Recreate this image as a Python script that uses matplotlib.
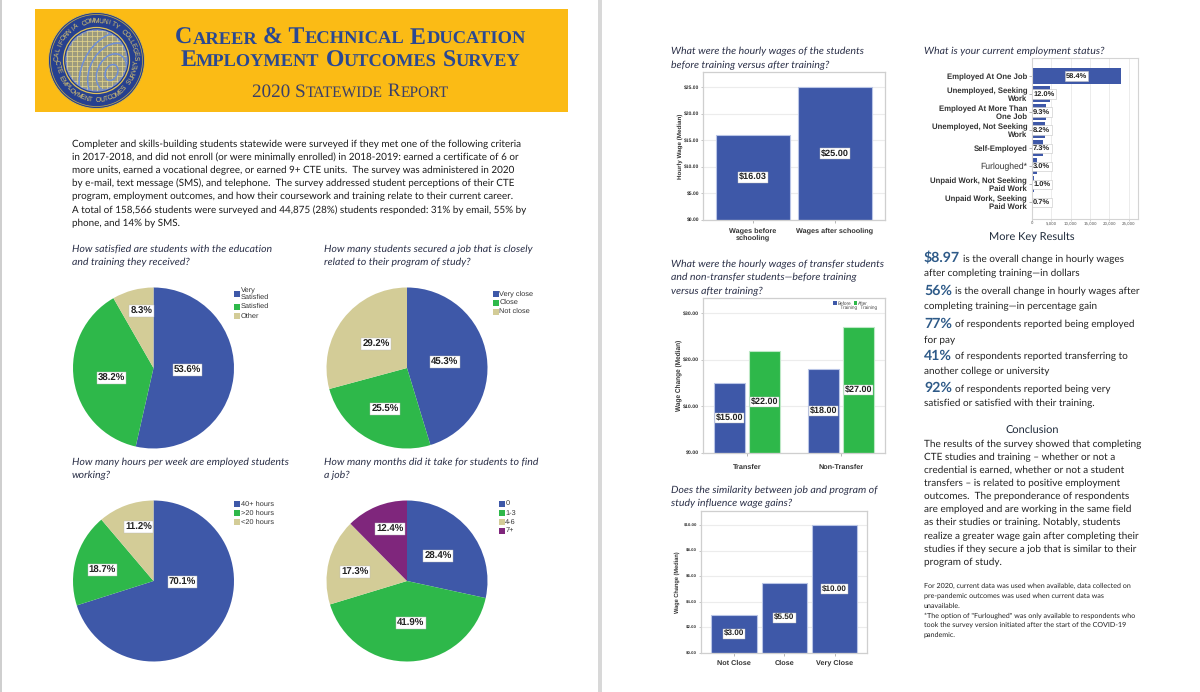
import numpy as np
import matplotlib
matplotlib.use('Agg')
import matplotlib.pyplot as plt
from matplotlib.patches import Rectangle, Circle, Ellipse

plt.rcParams['text.hinting'] = 'no_hinting'

W, H = 1200, 692

# pie data
sat_labels = ['Very\nSatisfied', 'Satisfied', 'Other']
sat_values = [53.6, 38.2, 8.3]
close_labels = ['Very close', 'Close', 'Not close']
close_values = [45.3, 25.5, 29.2]
hours_labels = ['40+ hours', '>20 hours', '<20 hours']
hours_values = [70.1, 18.7, 11.2]
months_labels = ['0', '1-3', '4-6', '7+']
months_values = [28.4, 41.9, 17.3, 12.4]

# bar data
wage_cats = ['Wages before\nschooling', 'Wages after schooling']
wage_values = [16.03, 25.00]
transfer_cats = ['Transfer', 'Non-Transfer']
transfer_before = [15.00, 18.00]
transfer_after = [22.00, 27.00]
similar_cats = ['Not Close', 'Close', 'Very Close']
similar_values = [3.00, 5.50, 10.00]

status_cats = ['Employed At One Job', 'Unemployed, Seeking\nWork',
               'Employed At More Than\nOne Job', 'Unemployed, Not Seeking\nWork',
               'Self-Employed', 'Furloughed*', 'Unpaid Work, Not Seeking\nPaid Work',
               'Unpaid Work, Seeking\nPaid Work']
status_pct = [58.4, 12.0, 9.3, 8.2, 7.3, 3.0, 1.0, 0.7]
status_counts = [23050, 4740, 3670, 3240, 2880, 1180, 395, 275]
status_ticks = [0, 5000, 10000, 15000, 20000, 25000]

intro_lines = [
    'Completer and skills-building students statewide were surveyed if they met one of the following criteria',
    'in 2017-2018, and did not enroll (or were minimally enrolled) in 2018-2019: earned a certificate of 6 or',
    'more units, earned a vocational degree, or earned 9+ CTE units.  The survey was administered in 2020',
    'by e-mail, text message (SMS), and telephone.  The survey addressed student perceptions of their CTE',
    'program, employment outcomes, and how their coursework and training relate to their current career.',
    'A total of 158,566 students were surveyed and 44,875 (28%) students responded: 31% by email, 55% by',
    'phone, and 14% by SMS.',
]
key_results = [
    ('$8.97', 'is the overall change in hourly wages', 'after completing training\u2014in dollars'),
    ('56%', 'is the overall change in hourly wages after', 'completing training\u2014in percentage gain'),
    ('77%', 'of respondents reported being employed', 'for pay'),
    ('41%', 'of respondents reported transferring to', 'another college or university'),
    ('92%', 'of respondents reported being very', 'satisfied or satisfied with their training.'),
]
conclusion_lines = [
    'The results of the survey showed that completing',
    'CTE studies and training \u2013 whether or not a',
    'credential is earned, whether or not a student',
    'transfers \u2013 is related to positive employment',
    'outcomes.  The preponderance of respondents',
    'are employed and are working in the same field',
    'as their studies or training. Notably, students',
    'realize a greater wage gain after completing their',
    'studies if they secure a job that is similar to their',
    'program of study.',
]
note_lines = [
    'For 2020, current data was used when available, data collected on',
    'pre-pandemic outcomes was used when current data was',
    'unavailable.',
    '*The option of "Furloughed" was only available to respondents who',
    'took the survey version initiated after the start of the COVID-19',
    'pandemic.',
]

BLUE = '#3E58A8'
GREEN = '#2EB84A'
TAN = '#D3CC97'
PURPLE = '#7F267C'
GOLD = '#FBBB15'
NAVY = '#2A4892'
QCOL = '#2B3048'
BODY = 'Lato'
ARIAL = 'Liberation Sans'
pie_colors = [BLUE, GREEN, TAN, PURPLE]

fig = plt.figure(figsize=(W / 100, H / 100), dpi=100, facecolor='white')
page = fig.add_axes([0, 0, 1, 1], zorder=0)
page.set_xlim(0, W)
page.set_ylim(H, 0)
page.axis('off')


def box_axes(x0, y0, x1, y1):
    """ Axes from a pixel box, y counted from the top. """
    return fig.add_axes([x0 / W, 1 - y1 / H, (x1 - x0) / W, (y1 - y0) / H], zorder=2)


def small_caps(text, cx, y, big, small, color, weight='bold'):
    """ Small caps title, made of runs of two sizes, centered on cx. """
    runs = []
    for word_start, ch in zip([True] + [c == ' ' for c in text[:-1]], text):
        size = big if (word_start or not ch.isalpha()) else small
        label = ch.upper()
        if runs and runs[-1][1] == size:
            runs[-1][0] += label
        else:
            runs.append([label, size])
    renderer = fig.canvas.get_renderer()
    items = []
    total = 0
    for label, size in runs:
        # trailing spaces are not measured, so measure with a stopper
        t = page.text(0, y, label + '|', family='Liberation Serif', weight=weight, fontsize=size,
                      color=color, va='baseline')
        w = t.get_window_extent(renderer).width
        t.set_text('|')
        w -= t.get_window_extent(renderer).width
        t.set_text(label)
        items.append((t, w))
        total += w
    x = cx - total / 2
    for t, w in items:
        t.set_x(x)
        x += w


def arc_text(text, cx, cy, r, center_deg, step, top):
    """ Places letters one by one round the seal. """
    n = len(text)
    for i, ch in enumerate(text):
        off = (i - (n - 1) / 2) * step
        a = np.deg2rad(center_deg + off if top else center_deg - off)
        x = cx + r * np.sin(a)
        y = cy - r * np.cos(a)
        rot = -np.rad2deg(a) if top else 180 - np.rad2deg(a)
        page.text(x, y, ch, fontsize=4.8, color='#E9CF6B', family=ARIAL,
                  ha='center', va='center', rotation=rot, rotation_mode='anchor', zorder=6)


def draw_logo(cx, cy):
    page.add_patch(Circle((cx, cy), 48, fc='#26408F', ec='#E6BE3A', lw=0.6, zorder=3))
    page.add_patch(Circle((cx, cy), 46, fc='none', ec='#C9AE4A', lw=0.5, zorder=3))
    page.add_patch(Circle((cx, cy), 33, fc='#1E3A8C', ec='#E0C25A', lw=0.9, zorder=3))
    page.add_patch(Circle((cx, cy), 30.5, fc='#9C9A7E', ec='#7C8FC6', lw=1.0, zorder=3))
    globe = Circle((cx, cy), 30.5, transform=page.transData)
    for k in np.arange(-30, 31, 5):
        ln, = page.plot([cx - 31, cx + 31], [cy + k, cy + k], color='#E8D88C', lw=0.5, zorder=4)
        ln.set_clip_path(globe)
        ln, = page.plot([cx + k, cx + k], [cy - 31, cy + 31], color='#E8D88C', lw=0.5, zorder=4)
        ln.set_clip_path(globe)
    for rx in [6, 14, 22, 30]:
        e = Ellipse((cx + 15, cy + 12), rx * 2, rx * 2.8, angle=25, fc='none', ec='#6F8FD6', lw=1.1, zorder=5)
        page.add_patch(e)
        e.set_clip_path(globe)
    arc_text('CALIFORNIA COMMUNITY COLLEGES', cx, cy, 39.5, 0, 6.2, True)
    arc_text('CTE EMPLOYMENT OUTCOMES SURVEY', cx, cy, 39.5, 180, 6.0, False)


def question(x, y, lines, dy=13.4):
    for i, line in enumerate(lines):
        page.text(x, y + i * dy, line, family=BODY, style='italic', fontsize=7.55, color=QCOL,
                  va='center')


def draw_pie(cx, cy, r, values, offsets):
    ax = box_axes(cx - r, cy - r, cx + r, cy + r)
    colors = pie_colors[:len(values)]
    ax.pie(values, colors=colors, startangle=90, counterclock=False, radius=1,
           wedgeprops={'linewidth': 0})
    ax.set_xlim(-1, 1)
    ax.set_ylim(-1, 1)
    for v, (dx, dy) in zip(values, offsets):
        ax.text(dx / r, -dy / r, '%.1f%%' % v, family=ARIAL, weight='bold', fontsize=6.9, color='#222222',
                ha='center', va='center', bbox=dict(fc='white', ec='#bbbbbb', lw=0.3, pad=0.9))


def pie_legend(x, ys, labels, colors):
    for y, label, c in zip(ys, labels, colors):
        page.add_patch(Rectangle((x, y - 3), 6, 6, fc=c, ec='none', zorder=3))
        page.text(x + 6.8, y, label, family=ARIAL, fontsize=5.3, color='#333333', va='center', linespacing=0.95)


def style_bar_axes(ax, ylabel, tick_size=3.6, xpad=3, ylabel_size=4.5):
    ax.set_axisbelow(True)
    ax.grid(axis='y', color='#ECECEC', lw=0.8)
    for side in ax.spines:
        ax.spines[side].set_color('#CFCFCF')
        ax.spines[side].set_linewidth(0.9)
    ax.tick_params(axis='y', labelsize=tick_size, length=1.5, width=0.4, pad=1.2, color='#999999',
                   labelcolor='#333333')
    ax.tick_params(axis='x', labelsize=5.2, length=2, width=0.5, pad=xpad, color='#999999',
                   labelcolor='#333333')
    for t in ax.get_yticklabels():
        t.set_family(ARIAL)
        t.set_weight('bold')
    for t in ax.get_xticklabels():
        t.set_family(ARIAL)
        t.set_weight('bold')
        t.set_linespacing(1.0)
    ax.set_ylabel(ylabel, family=ARIAL, weight='bold', fontsize=ylabel_size, color='#333333', labelpad=0.5)


def bar_labels(ax, xs, values, size=6.6, pad=0.9):
    for x, v in zip(xs, values):
        ax.text(x, v / 2, '$%.2f' % v, family=ARIAL, weight='bold', fontsize=size, color='#222222',
                ha='center', va='center', bbox=dict(fc='white', ec='#bbbbbb', lw=0.3, pad=pad))


# page and gap between the two sheets
page.add_patch(Rectangle((0, 0), 1.5, H, fc='#CFCFCF', ec='none'))
page.add_patch(Rectangle((598, 0), 4, H, fc='#D8D8D8', ec='none'))

# banner
page.add_patch(Rectangle((35, 9), 533, 103, fc=GOLD, ec='none', zorder=1))
draw_logo(96.5, 60.5)
small_caps('Career & Technical Education', 350.5, 44, 17.2, 13.3, NAVY)
small_caps('Employment Outcomes Survey', 350.5, 66.5, 17.1, 13.2, NAVY)
small_caps('2020 Statewide Report', 350.5, 96.5, 13.8, 11.2, '#3A3F68', weight='normal')

# intro
for i, line in enumerate(intro_lines):
    page.text(71.5, 144 + i * 13.2, line, family=BODY, fontsize=7.15, color='#1A1A1A', va='center')

# pies
question(71.5, 249, ['How satisfied are students with the education', 'and training they received?'])
question(324.5, 249, ['How many students secured a job that is closely', 'related to their program of study?'])
question(71.5, 462.5, ['How many hours per week are employed students', 'working?'])
question(324.5, 462.5, ['How many months did it take for students to find', 'a job?'])

draw_pie(153.5, 368, 80.5, sat_values, [(34, 2), (-42, 10), (-12, -57)])
draw_pie(407, 368, 80.5, close_values, [(38, -6), (-22, 41), (-31, -24)])
draw_pie(153.5, 581, 80.5, hours_values, [(29, 1), (-51, -11), (-15, -54)])
draw_pie(407, 581, 80.5, months_values, [(31, -25), (4, 42), (-52, -9), (-17, -52)])

pie_legend(234, [294, 306.5, 316], sat_labels, pie_colors)
pie_legend(492.5, [294, 302.5, 311.5], close_labels, pie_colors)
pie_legend(234, [504, 513, 522], hours_labels, pie_colors)
pie_legend(498.5, [503.5, 513, 522, 530.5], months_labels, pie_colors)

# wages before and after
question(671, 51, ['What were the hourly wages of the students', 'before training versus after training?'], dy=14)
ax = box_axes(703, 72, 885, 220)
x = np.arange(len(wage_cats))
ax.bar(x, wage_values, width=0.9, color=BLUE, edgecolor='#B9C5E6', linewidth=0.8)
ax.set_xlim(-0.61, 1.61)
ax.set_ylim(0, 27.9)
ax.set_yticks([0, 5, 10, 15, 20, 25], ['$%.2f' % v for v in [0, 5, 10, 15, 20, 25]])
ax.set_xticks(x, wage_cats)
style_bar_axes(ax, 'Hourly Wage (Median)', xpad=3.5)
bar_labels(ax, x, wage_values)

# transfer vs non transfer
question(671, 264.5, ['What were the hourly wages of transfer students',
                      'and non-transfer students\u2014before training', 'versus after training?'], dy=13.3)
ax = box_axes(703, 298, 885, 453)
x = np.arange(len(transfer_cats))
ax.bar(x - 0.185, transfer_before, width=0.33, color=BLUE, edgecolor='#B9C5E6', linewidth=0.8)
ax.bar(x + 0.185, transfer_after, width=0.33, color=GREEN, edgecolor='#BDE8C6', linewidth=0.8)
ax.set_xlim(-0.468, 1.468)
ax.set_ylim(0, 33.3)
ax.set_yticks([0, 10, 20, 30], ['$%.2f' % v for v in [0, 10, 20, 30]])
ax.set_xticks(x, transfer_cats)
style_bar_axes(ax, 'Wage Change (Median)', tick_size=3.8, xpad=5.5, ylabel_size=4.7)
bar_labels(ax, x - 0.185, transfer_before, size=6.5, pad=0.5)
bar_labels(ax, x + 0.185, transfer_after, size=6.5, pad=0.5)
for sx, tx, label, c in [(833, 838, 'Before\n  Training', BLUE), (853.5, 858, 'After\n  Training', GREEN)]:
    fig.add_artist(Rectangle((sx / W, 1 - 304.5 / H), 3.5 / W, 3.5 / H, fc=c, ec='none', zorder=5,
                             transform=fig.transFigure))
    fig.text(tx / W, 1 - 305.5 / H, label, family=ARIAL, fontsize=3.3, color='#444444', va='center', zorder=5,
             linespacing=1.0)

# job similarity
question(671, 490, ['Does the similarity between job and program of', 'study influence wage gains?'], dy=13.5)
ax = box_axes(701, 511, 867, 653)
x = np.arange(len(similar_cats))
ax.bar(x, similar_values, width=0.9, color=BLUE, edgecolor='#B9C5E6', linewidth=0.8)
ax.set_xlim(-0.656, 2.646)
ax.set_ylim(0, 11.1)
ax.set_yticks([0, 2, 4, 6, 8, 10], ['$%.2f' % v for v in [0, 2, 4, 6, 8, 10]])
ax.set_xticks(x, similar_cats)
style_bar_axes(ax, 'Wage Change (Median)', tick_size=3.2, xpad=3, ylabel_size=4.1)
ax.yaxis.labelpad = 2.5
bar_labels(ax, x, similar_values, size=5.9)

# employment status
question(924, 51, ['What is your current employment status?'])
ax = box_axes(1032, 58, 1138, 219)
y = np.arange(len(status_cats))
ax.barh(y, status_counts, height=0.89, color=BLUE, edgecolor='none')
ax.set_ylim(7.94, -1)
ax.set_xlim(0, 27400)
ax.set_xticks(status_ticks, ['{:,}'.format(v) for v in status_ticks])
ax.set_yticks(y, status_cats)
ax.set_axisbelow(True)
ax.grid(axis='x', color='#ECECEC', lw=0.7)
for side in ax.spines:
    ax.spines[side].set_color('#D4D4D4')
ax.tick_params(axis='x', labelsize=2.8, length=1.2, width=0.4, pad=1, labelcolor='#555555', color='#aaaaaa')
ax.tick_params(axis='y', labelsize=5.6, length=2, width=0.5, pad=1.5, labelcolor='#333333', color='#999999')
for i, t in enumerate(ax.get_yticklabels()):
    t.set_family(ARIAL)
    t.set_weight('normal' if status_cats[i].startswith('Furloughed') else 'bold')
    if status_cats[i].startswith('Furloughed'):
        t.set_fontsize(6.2)
    t.set_linespacing(1.0)
for i, (c, p) in enumerate(zip(status_counts, status_pct)):
    # small bars get the label at the axis, the long one inside
    lx = c / 2 if i == 0 else 300
    ha = 'center' if i == 0 else 'left'
    ax.text(lx, i, '%.1f%%' % p, family=ARIAL, weight='bold', fontsize=5.4,
            color='#222222', ha=ha, va='center', bbox=dict(fc='white', ec='#c4c4c4', lw=0.4, pad=0.9))

# key results
page.text(1032, 237.5, 'More Key Results', family=BODY, fontsize=7.9, color='#1E2A3A', ha='center', va='center')
renderer = fig.canvas.get_renderer()
key_y = [258, 290.5, 323.5, 355.5, 388]
for (big, rest, second), y0 in zip(key_results, key_y):
    t = page.text(924, y0, big, family=BODY, weight='bold', fontsize=10.2, color='#2E5A88', va='center')
    bw = t.get_window_extent(renderer).width
    page.text(924 + bw + 3, y0 + 1, rest, family=BODY, fontsize=7.2, color='#222222', va='center')
    page.text(924, y0 + 15.5, second, family=BODY, fontsize=7.2, color='#222222', va='center')

# conclusion
page.text(1032, 430, 'Conclusion', family=BODY, fontsize=7.9, color='#1E2A3A', ha='center', va='center')
for i, line in enumerate(conclusion_lines):
    page.text(924, 444 + i * 13.15, line, family=BODY, fontsize=7.2, color='#222222', va='center')
for i, line in enumerate(note_lines):
    page.text(924, 586.5 + i * 9.7, line, family=BODY, fontsize=5.15, color='#222222', va='center')

fig.savefig('out.png', dpi=100, facecolor='white')
